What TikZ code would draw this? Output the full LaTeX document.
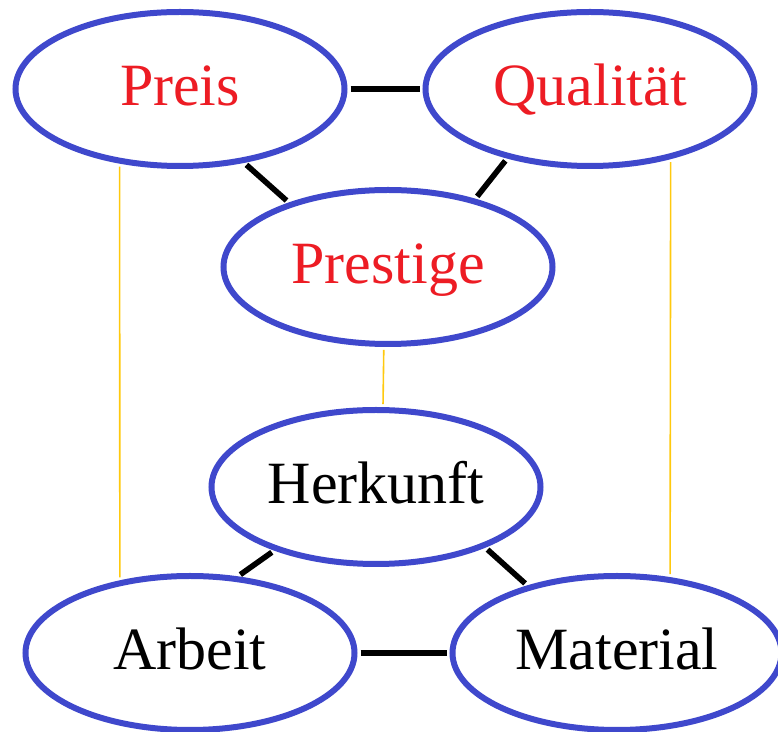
\documentclass[tikz,border=0pt]{standalone}
\usepackage{fontspec}
\setmainfont{Liberation Serif}
\usetikzlibrary{shapes.geometric}
\definecolor{paintblue}{HTML}{3F48CC}
\definecolor{paintred}{HTML}{ED1C24}
\definecolor{paintgold}{HTML}{FFC90E}
\begin{document}
\begin{tikzpicture}[x=0.5pt,y=-0.5pt,
      main node/.style={ellipse,draw=paintblue,line width=3pt,fill=white,
        minimum width=164.5pt,minimum height=77pt,inner sep=0pt,
        text height=21pt,text depth=4pt,font=\fontsize{30}{36}\selectfont},
      link/.style={line width=2.8pt,shorten >=1.5pt,shorten <=1.5pt},
      side link/.style={draw=paintgold,line width=0.8pt,shorten >=1.5pt,shorten <=1.5pt}]
 \useasboundingbox (0,0) rectangle (778,732);
 \node[main node, text=paintred] (Preis) at (180,89) {Preis};
 \node[main node, text=paintred] (Qual) at (590,89) {Qualität};
 \node[main node, text=paintred] (Prestige) at (388,267) {Prestige};
 \node[main node] (Herkunft) at (376,487) {Herkunft};
 \node[main node] (Arbeit) at (190,653) {Arbeit};
 \node[main node] (Material) at (617,653) {Material};

\path
 (Preis.east) edge [link] (Qual.west)
 (Preis.311) edge [link] (Prestige.147)
 (Qual.220) edge [link] (Prestige.38)
 (Herkunft.212) edge [link] (Arbeit.58)
 (Herkunft.331) edge [link] (Material.143)
 (Arbeit.east) edge [link] (Material.west)
 (Preis.231) edge [side link] (Arbeit.134)
 (Qual.319) edge [side link] (Material.55)
 (Prestige.267) edge [side link] (Herkunft.85)
 ;
\end{tikzpicture}
\end{document}
